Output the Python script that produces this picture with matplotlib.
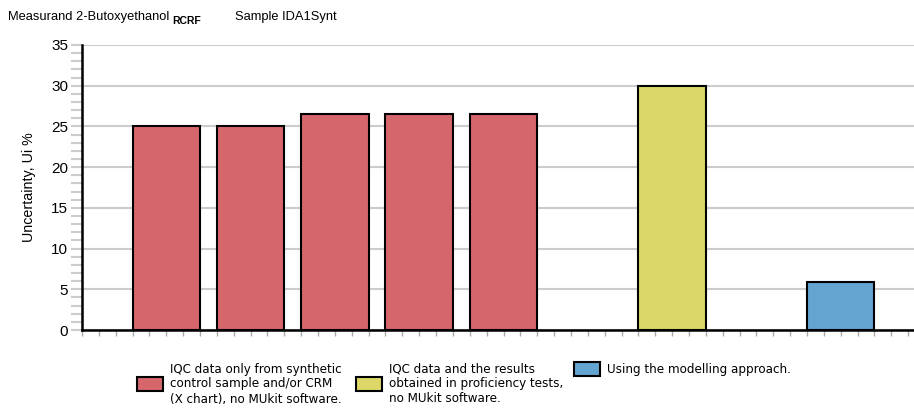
import numpy as np
import matplotlib.pyplot as plt
from matplotlib.patches import Rectangle
from matplotlib.ticker import MultipleLocator
from matplotlib import font_manager

# bar data (slot position on x, value in %)
positions = [1, 2, 3, 4, 5, 7, 9]
values = [25, 25, 26.5, 26.5, 26.5, 30, 5.9]
groups = [0, 0, 0, 0, 0, 1, 2]

group_colors = ['#d5676c', '#dcd868', '#63a5d0']
group_labels = ['IQC data only from synthetic\ncontrol sample and/or CRM\n(X chart), no MUkit software.',
                'IQC data and the results\nobtained in proficiency tests,\nno MUkit software.',
                'Using the modelling approach.']

plt.rcParams['font.family'] = ['Liberation Sans', 'DejaVu Sans']

# condensed regular face for the legend if one is installed
narrow = None
for f in font_manager.fontManager.ttflist:
    cond = 'Narrow' in f.name or f.stretch in ('condensed', 'semi-condensed')
    if cond and f.weight in (400, 'normal', 'regular') and f.style == 'normal':
        narrow = f
        break

fig = plt.figure(figsize=(9.14, 4.08), dpi=100)
ax = fig.add_axes([82/914, 1 - 330/408, 843/914, 285/408])

ax.bar(positions, values, width=0.8, color=[group_colors[g] for g in groups],
       edgecolor='black', linewidth=1.5, zorder=3)

ax.set_xlim(0, 10)
ax.set_ylim(0, 35)
ax.yaxis.set_major_locator(MultipleLocator(5))
ax.yaxis.set_minor_locator(MultipleLocator(1))
ax.xaxis.set_major_locator(MultipleLocator(1))
ax.xaxis.set_minor_locator(MultipleLocator(0.2))
ax.tick_params(axis='x', which='both', length=4, width=1, color='#aaaaaa', labelbottom=False)
ax.tick_params(axis='y', which='both', length=8, width=1.5, color='#cccccc', labelsize=11, pad=2)
ax.grid(axis='y', which='major', color='#cccccc', linewidth=1.5, zorder=0)
ax.set_axisbelow(True)
for s in ['top', 'right']:
    ax.spines[s].set_visible(False)
for s in ['left', 'bottom']:
    ax.spines[s].set_linewidth(1.8)
    ax.spines[s].set_zorder(4)
ax.set_ylabel('Uncertainty, Ui %', fontsize=10.3, labelpad=11)

# header
fig.text(8/914, 1 - 20/408, 'Measurand 2-Butoxyethanol', fontsize=9.3, va='baseline')
fig.text(172/914, 1 - 24/408, 'RCRF', fontsize=7.5, va='baseline', fontweight='bold')
fig.text(235/914, 1 - 20/408, 'Sample IDA1Synt', fontsize=9.3, va='baseline')

# legend
if narrow is not None:
    leg_font = dict(fontproperties=font_manager.FontProperties(fname=narrow.fname, size=9.5))
else:
    leg_font = dict(fontsize=9.6)
leg_x = [137, 356, 574]
leg_y = [384, 384, 369]
for g in range(3):
    fig.patches.append(Rectangle(((leg_x[g]) / 914, 1 - (leg_y[g] + 7) / 408), 26/914, 14/408,
                                 transform=fig.transFigure, facecolor=group_colors[g],
                                 edgecolor='black', linewidth=1.5))
    fig.text((leg_x[g] + 33) / 914, 1 - leg_y[g] / 408, group_labels[g],
             va='center', ha='left', linespacing=1.2, **leg_font)

fig.savefig('out.png', dpi=100)
